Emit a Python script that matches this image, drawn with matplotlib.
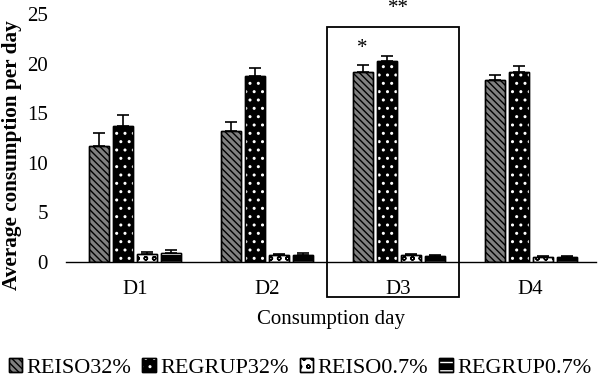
import matplotlib
matplotlib.use("Agg")
import matplotlib.pyplot as plt
import numpy as np
from matplotlib.patches import Rectangle
from matplotlib.legend_handler import HandlerTuple

plt.rcParams['font.family'] = ['Liberation Serif', 'DejaVu Serif']
plt.rcParams['hatch.linewidth'] = 1.0

days = ["D1", "D2", "D3", "D4"]
series = ["REISO32%", "REGRUP32%", "REISO0.7%", "REGRUP0.7%"]
means = [
    [11.7, 13.2, 19.15, 18.3],
    [13.7, 18.75, 20.3, 19.2],
    [0.85, 0.7, 0.75, 0.55],
    [0.9, 0.75, 0.65, 0.55],
]
errs = [
    [1.3, 0.9, 0.75, 0.6],
    [1.1, 0.85, 0.5, 0.6],
    [0.15, 0.1, 0.08, 0.1],
    [0.3, 0.12, 0.08, 0.1],
]

# (face, hatch, hatch colour)
styles = [
    ("#808080", "\\\\\\\\\\", "black"),
    ("black", "..", "white"),
    ("white", "oo", "black"),
    ("black", "--", "white"),
]

fig = plt.figure(figsize=(6, 3.81), dpi=100)
ax = fig.add_axes([0.11, 0.3123, 0.8833, 0.651])

x = np.arange(len(days))
step = 0.182
width = 0.152
handles = []
for i, name in enumerate(series):
    face, hatch, hcol = styles[i]
    pos = x + (i - 1.5) * step
    err = [np.zeros(len(days)), errs[i]]
    b1 = ax.bar(pos, means[i], width, color=face, edgecolor="black", linewidth=1.0,
                yerr=err, capsize=4, error_kw=dict(ecolor="black", elinewidth=1.2, capthick=1.2),
                zorder=2)
    b2 = ax.bar(pos, means[i], width, color="none", edgecolor=hcol, hatch=hatch,
                linewidth=0, zorder=3)
    b3 = ax.bar(pos, means[i], width, color="none", edgecolor="black", linewidth=1.0, zorder=4)
    handles.append((b1, b2, b3))

ax.set_ylim(0, 25)
ax.set_xlim(-0.52, 3.495)
ax.set_yticks(range(0, 26, 5))
ax.set_xticks(x)
ax.set_xticklabels(days)
ax.tick_params(axis="y", length=0, pad=13, labelsize=15)
ax.tick_params(axis="x", length=0, pad=13, labelsize=15)
for s in ["top", "right", "left"]:
    ax.spines[s].set_visible(False)
ax.spines["bottom"].set_linewidth(1.0)

ax.set_ylabel("Average consumption per day", fontsize=15.3, fontweight="bold")
ax.yaxis.set_label_coords(-0.083, 0.43)
ax.set_xlabel("Consumption day", fontsize=15, labelpad=8)

# box around D3
ax.add_patch(Rectangle((1.46, -3.55), 1.0, 27.25, fill=False, edgecolor="black",
                       linewidth=1.3, clip_on=False, zorder=5))
ax.text(2.0, 25.6, "**", ha="center", va="center", fontsize=15, clip_on=False)
ax.text(2 - 1.5 * step, 21.5, "*", ha="center", va="center", fontsize=15)

fig.legend(handles, series, handler_map={tuple: HandlerTuple(ndivide=1, pad=0)},
           loc="center", bbox_to_anchor=(0.5, 0.035), ncol=4, frameon=False, fontsize=16,
           handlelength=0.6, handleheight=0.6, handletextpad=0.2, columnspacing=0.5)

fig.savefig("out.png", dpi=100)
